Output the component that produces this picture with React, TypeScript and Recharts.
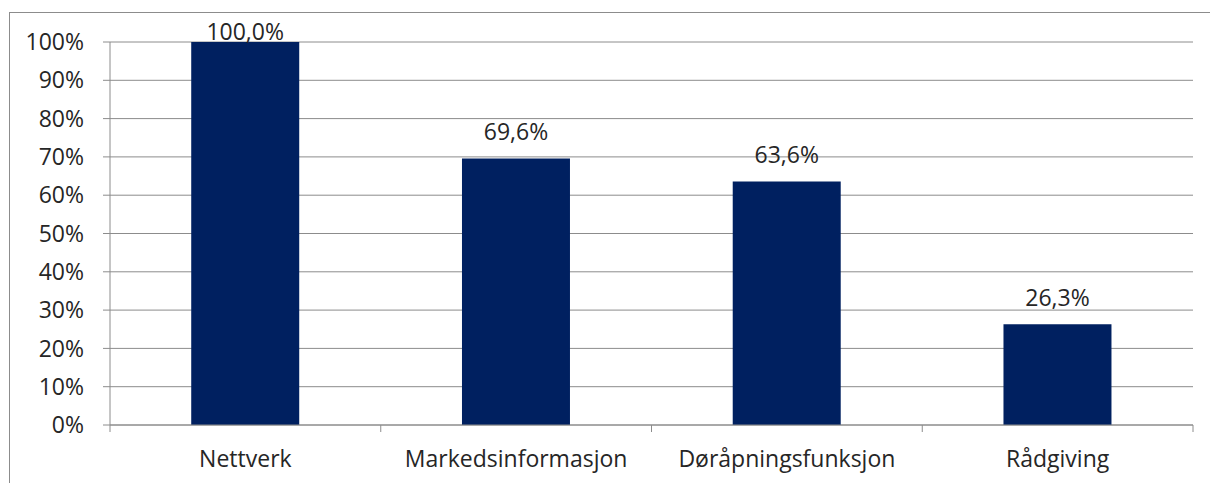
import { BarChart, Bar, XAxis, YAxis, CartesianGrid, LabelList } from "recharts";

const categories = ["Nettverk", "Markedsinformasjon", "Døråpningsfunksjon", "Rådgiving"];
const shares = [100.0, 69.6, 63.6, 26.3];
const yTicks = [0, 10, 20, 30, 40, 50, 60, 70, 80, 90, 100];

const data = categories.map((name, i) => ({ name, value: shares[i] }));

const FONT = "'Open Sans', 'Noto Sans', sans-serif";
const FONT_SIZE = 23;
const TEXT = "#262626";
const GRID = "#8c8c8c";
const BAR = "#002060";
const PLOT_TOP = 42;

const fmt = (v: number) => v.toFixed(1).replace(".", ",") + "%";

const CategoryTick = (props: any) => {
  const { x, y, payload, index } = props;
  const half = payload?.offset ?? 135;
  const axisY = y - 26;
  return (
    <g>
      <line x1={x - half} x2={x - half} y1={axisY} y2={axisY + 7} stroke={GRID} />
      {index === categories.length - 1 && (
        <line x1={x + half} x2={x + half} y1={axisY} y2={axisY + 7} stroke={GRID} />
      )}
      <text x={x} y={y} dy="0.71em" textAnchor="middle" fill={TEXT} fontSize={FONT_SIZE} fontFamily={FONT}>
        {payload.value}
      </text>
    </g>
  );
};

const ValueLabel = (props: any) => {
  const { x, y, width, value } = props;
  const base = Math.max(y - 18, PLOT_TOP - 2);
  return (
    <text x={x + width / 2} y={base} textAnchor="middle" fill={TEXT} fontSize={FONT_SIZE} fontFamily={FONT}>
      {fmt(value)}
    </text>
  );
};

export default function App() {
  return (
    <div style={{ position: "absolute", left: 0, top: 0, width: 1210, height: 483, background: "#fff" }}>
      <div
        style={{
          position: "absolute",
          left: 9,
          top: 12,
          right: 0,
          bottom: 0,
          borderTop: `1px solid ${GRID}`,
          borderLeft: `1px solid ${GRID}`,
        }}
      />
      <div style={{ position: "absolute", left: 0, top: 0 }}>
        <BarChart
          width={1210}
          height={483}
          data={data}
          margin={{ top: PLOT_TOP, right: 17, bottom: 0, left: 0 }}
          barCategoryGap="30%"
        >
          <CartesianGrid vertical={false} stroke={GRID} />
          <YAxis
            width={110}
            domain={[0, 100]}
            ticks={yTicks}
            interval={0}
            tickFormatter={(v: number) => `${v}%`}
            tick={{ fill: TEXT, fontSize: FONT_SIZE, fontFamily: FONT }}
            tickSize={7}
            tickMargin={19}
            axisLine={{ stroke: GRID }}
            tickLine={{ stroke: GRID }}
          />
          <XAxis
            dataKey="name"
            height={58}
            interval={0}
            tickLine={false}
            tickSize={0}
            tickMargin={26}
            axisLine={{ stroke: GRID }}
            tick={<CategoryTick />}
          />
          <Bar dataKey="value" fill={BAR} isAnimationActive={false}>
            <LabelList dataKey="value" content={<ValueLabel />} />
          </Bar>
        </BarChart>
      </div>
    </div>
  );
}
